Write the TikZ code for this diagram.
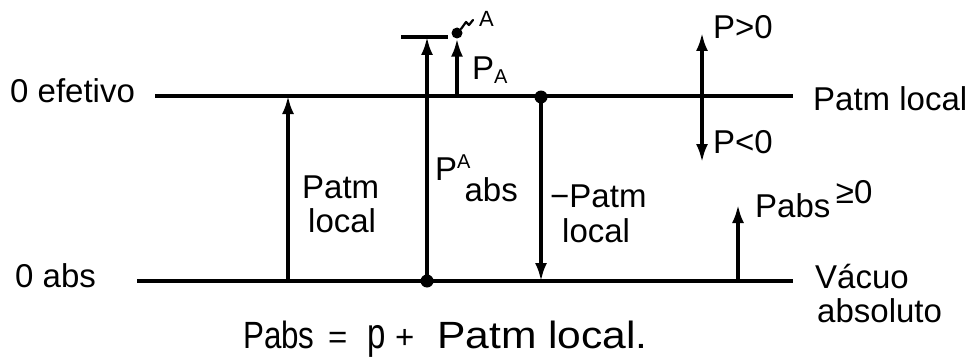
\documentclass[tikz,border=0pt]{standalone}
\usepackage{fontspec}
\setmainfont{Liberation Sans}
\usetikzlibrary{arrows.meta}
\begin{document}
\begin{tikzpicture}[x=1pt,y=-1pt,
  line/.style={line width=3.2pt},
  arr/.style={line width=3.2pt,-{Latex[length=18pt,width=12pt]}},
  darr/.style={line width=3.2pt,{Latex[length=18pt,width=12pt]}-{Latex[length=18pt,width=12pt]}},
  lbl/.style={font=\fontsize{33}{38}\selectfont,inner sep=0pt,anchor=base west},
  small/.style={font=\fontsize{22}{24}\selectfont,inner sep=0pt,anchor=base west},
  dot/.style={circle,fill=black,inner sep=0pt,minimum size=13pt}]
\useasboundingbox (0,0) rectangle (974,361);
% reference lines
\coordinate (topL) at (155,96);
\coordinate (topR) at (793,96);
\coordinate (botL) at (137,281);
\coordinate (botR) at (793,281);
\draw[line] (topL) -- (topR);
\draw[line] (botL) -- (botR);
% Patm local arrow
\coordinate (a1b) at (288,281);
\coordinate (a1t) at (288,96);
\draw[arr] (a1b) -- (a1t);
% P_A abs arrow
\node[dot] (d2) at (427,281) {};
\coordinate (bar) at (427,37);
\coordinate (barL) at (401,37);
\coordinate (barR) at (448,37);
\draw[line] (barL) -- (barR);
\draw[arr] (d2.center) -- (bar);
% P_A arrow
\coordinate (a3b) at (457,97);
\node[dot,minimum size=11pt] (dA) at (457,33) {};
\draw[arr] (a3b) -- (dA.south);
\draw[line width=2.2pt,line cap=round,line join=round] (dA.north east) -- (466,22) -- (469,25) -- (473,20);
% -Patm local arrow
\node[dot] (d4) at (541,97) {};
\coordinate (a4b) at (541,281);
\draw[arr] (d4.center) -- (a4b);
% P>0 / P<0 double arrow
\coordinate (p1) at (702,33);
\coordinate (p2) at (702,162);
\draw[darr] (p2) -- (p1);
% Pabs >= 0 arrow
\coordinate (a6b) at (738,281);
\coordinate (a6t) at (738,205);
\draw[arr] (a6b) -- (a6t);
% labels
\node[lbl] (ef) at (10,102) {0 efetivo};
\node[lbl] (ab) at (15,287) {0 abs};
\node[lbl] (plr) at (813,110) {Patm local};
\node[lbl] (pg) at (713,38) {P>0};
\node[lbl] (pl) at (713,153) {P<0};
\node[lbl] (pabs) at (755,217) {Pabs\,\raisebox{14pt}{≥0}};
\node[lbl] (vac1) at (815,288) {Vácuo};
\node[lbl] (vac2) at (817,322) {absoluto};
\node[lbl] (pat1) at (302,198) {Patm};
\node[lbl] (pat2) at (308,232) {local};
\node[lbl] (pa) at (435,180) {P\raisebox{12pt}{\fontsize{20}{20}\selectfont A}\hspace{-6pt}\raisebox{-21pt}{abs}};
\node[lbl] (pA) at (472,80) {P\raisebox{-3pt}{\fontsize{20}{20}\selectfont A}};
\node[small] (lA) at (479,27) {A};
\node[lbl] (mp1) at (550,207) {−Patm};
\node[lbl] (mp2) at (562,242) {local};
\node[lbl] (eq) at (243,348)
  {\makebox[85pt][l]{\scalebox{0.95}[1.15]{Pabs}}\makebox[39pt][l]{=}\makebox[28pt][l]{\scalebox{1}[1.3]{p}}\makebox[42pt][l]{+}\scalebox{1.29}[1.15]{Patm local.}};
\end{tikzpicture}
\end{document}
